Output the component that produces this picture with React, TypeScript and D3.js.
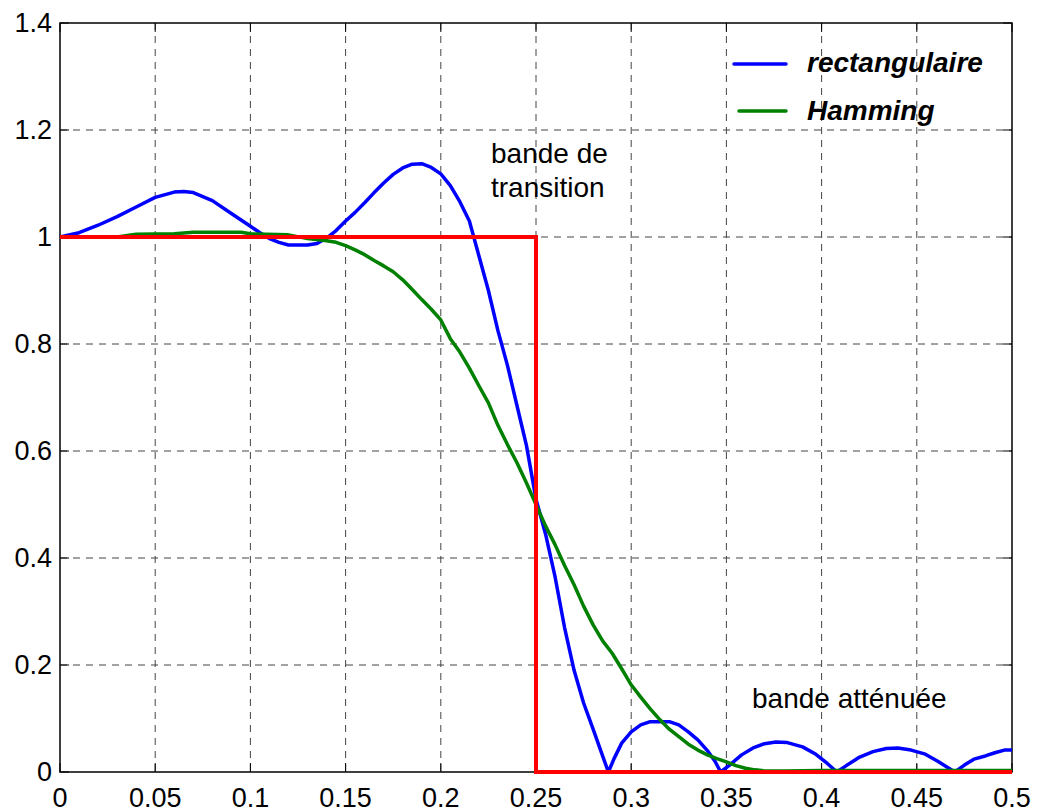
import React from "react";
import * as d3 from "d3";

// Normalised frequency samples and magnitude responses
const rectFreq = [
  0, 0.01, 0.02, 0.03, 0.04, 0.05, 0.06, 0.065, 0.07, 0.08, 0.09, 0.1, 0.105, 0.11, 0.115, 0.12,
  0.13, 0.135, 0.14, 0.145, 0.15, 0.155, 0.16, 0.165, 0.17, 0.175, 0.18, 0.185, 0.19, 0.195, 0.2,
  0.205, 0.21, 0.215, 0.22, 0.225, 0.23, 0.235, 0.24, 0.245, 0.25, 0.255, 0.26, 0.265, 0.27, 0.275,
  0.28, 0.284, 0.288, 0.291, 0.295, 0.3, 0.305, 0.31, 0.32, 0.325, 0.33, 0.335, 0.34, 0.344, 0.347,
  0.352, 0.358, 0.364, 0.37, 0.376, 0.382, 0.39, 0.397, 0.403, 0.408, 0.413, 0.42, 0.427, 0.434,
  0.44, 0.447, 0.454, 0.461, 0.466, 0.47, 0.475, 0.48, 0.486, 0.491, 0.496, 0.5,
];
const rectMag = [
  1.0, 1.008, 1.022, 1.038, 1.056, 1.074, 1.084, 1.085, 1.083, 1.068, 1.044, 1.02, 1.008, 0.997,
  0.99, 0.985, 0.985, 0.988, 0.998, 1.012, 1.03, 1.046, 1.064, 1.083, 1.101, 1.117, 1.129, 1.136,
  1.137, 1.13, 1.118, 1.096, 1.066, 1.03, 0.965, 0.9, 0.825, 0.76, 0.685, 0.61, 0.51, 0.445, 0.365,
  0.27, 0.19, 0.129, 0.08, 0.04, 0.0, 0.025, 0.054, 0.075, 0.088, 0.094, 0.094, 0.088, 0.075, 0.06,
  0.04, 0.02, 0.0, 0.014, 0.032, 0.045, 0.053, 0.056, 0.055, 0.047, 0.033, 0.016, 0.0, 0.012, 0.028,
  0.038, 0.044, 0.045, 0.041, 0.034, 0.02, 0.009, 0.0, 0.013, 0.024, 0.03, 0.036, 0.041, 0.041,
];

const hammFreq = [
  0, 0.03, 0.04, 0.06, 0.07, 0.095, 0.1, 0.12, 0.13, 0.14, 0.145, 0.15, 0.155, 0.16, 0.165, 0.17,
  0.175, 0.18, 0.185, 0.19, 0.195, 0.2, 0.205, 0.21, 0.215, 0.22, 0.225, 0.23, 0.235, 0.24, 0.245,
  0.25, 0.255, 0.26, 0.265, 0.27, 0.275, 0.28, 0.285, 0.29, 0.295, 0.3, 0.305, 0.31, 0.315, 0.32,
  0.325, 0.33, 0.335, 0.34, 0.345, 0.35, 0.355, 0.36, 0.365, 0.37, 0.38, 0.4, 0.5,
];
const hammMag = [
  1.0, 1.0, 1.005, 1.006, 1.009, 1.009, 1.006, 1.004, 0.997, 0.993, 0.99, 0.984, 0.976, 0.967,
  0.956, 0.946, 0.935, 0.92, 0.902, 0.883, 0.865, 0.845, 0.81, 0.785, 0.755, 0.722, 0.69, 0.648,
  0.612, 0.578, 0.54, 0.5, 0.46, 0.425, 0.386, 0.35, 0.31, 0.275, 0.245, 0.222, 0.193, 0.163, 0.14,
  0.118, 0.098, 0.08, 0.066, 0.052, 0.041, 0.032, 0.025, 0.019, 0.012, 0.007, 0.004, 0.002, 0.002,
  0.003, 0.003,
];

// Ideal low-pass template
const idealFreq = [0, 0.25, 0.25, 0.5];
const idealMag = [1, 1, 0, 0];

const xTicks = [0, 0.05, 0.1, 0.15, 0.2, 0.25, 0.3, 0.35, 0.4, 0.45, 0.5];
const xTickLabels = ["0", "0.05", "0.1", "0.15", "0.2", "0.25", "0.3", "0.35", "0.4", "0.45", "0.5"];
const yTicks = [0, 0.2, 0.4, 0.6, 0.8, 1, 1.2, 1.4];
const yTickLabels = ["0", "0.2", "0.4", "0.6", "0.8", "1", "1.2", "1.4"];

const seriesNames = ["rectangulaire", "Hamming"];

const W = 1037;
const H = 812;
const L = 60, R = 1012, T = 23, B = 772;
const FONT = "'Liberation Sans', Arial, Helvetica, sans-serif";

export default function App() {
  const x = d3.scaleLinear().domain([0, 0.5]).range([L, R]);
  const y = d3.scaleLinear().domain([0, 1.4]).range([B, T]);
  const line = d3
    .line<[number, number]>()
    .x((d) => x(d[0]))
    .y((d) => y(d[1]));

  const rectPts = rectFreq.map((f, i) => [f, rectMag[i]] as [number, number]);
  const hammPts = hammFreq.map((f, i) => [f, hammMag[i]] as [number, number]);
  const idealPts = idealFreq.map((f, i) => [f, idealMag[i]] as [number, number]);

  const gridColor = "#444";
  const tickLen = 9;

  return (
    <svg
      width={W}
      height={H}
      style={{ position: "absolute", left: 0, top: 0, background: "#fff" }}
      fontFamily={FONT}
    >
      <rect x={0} y={0} width={W} height={H} fill="#fff" />
      {/* grid */}
      {xTicks.slice(1, -1).map((t) => (
        <line key={"gx" + t} x1={x(t)} x2={x(t)} y1={T} y2={B} stroke={gridColor} strokeWidth={1} strokeDasharray="7,6" />
      ))}
      {yTicks.slice(1, -1).map((t) => (
        <line key={"gy" + t} x1={L} x2={R} y1={y(t)} y2={y(t)} stroke={gridColor} strokeWidth={1} strokeDasharray="7,6" />
      ))}
      {/* tick marks on all four sides */}
      {xTicks.map((t) => (
        <g key={"tx" + t}>
          <line x1={x(t)} x2={x(t)} y1={B} y2={B - tickLen} stroke="#000" />
          <line x1={x(t)} x2={x(t)} y1={T} y2={T + tickLen} stroke="#000" />
        </g>
      ))}
      {yTicks.map((t) => (
        <g key={"ty" + t}>
          <line x1={L} x2={L + tickLen} y1={y(t)} y2={y(t)} stroke="#000" />
          <line x1={R} x2={R - tickLen} y1={y(t)} y2={y(t)} stroke="#000" />
        </g>
      ))}
      {/* axes box */}
      <rect x={L} y={T} width={R - L} height={B - T} fill="none" stroke="#000" strokeWidth={1.5} />

      {/* curves */}
      <path d={line(rectPts) || ""} fill="none" stroke="#0000ff" strokeWidth={3.5} strokeLinejoin="round" />
      <path d={line(hammPts) || ""} fill="none" stroke="#008000" strokeWidth={3.5} strokeLinejoin="round" />
      <path d={line(idealPts) || ""} fill="none" stroke="#ff0000" strokeWidth={4} />

      {/* tick labels */}
      {xTicks.map((t, i) => (
        <text key={"lx" + t} x={x(t)} y={807} fontSize={27} textAnchor="middle" fill="#000">
          {xTickLabels[i]}
        </text>
      ))}
      {yTicks.map((t, i) => (
        <text key={"ly" + t} x={52} y={y(t) + 9} fontSize={27} textAnchor="end" fill="#000">
          {yTickLabels[i]}
        </text>
      ))}

      {/* legend */}
      <line x1={734} x2={786} y1={64} y2={64} stroke="#0000ff" strokeWidth={3.5} strokeLinecap="round" />
      <line x1={739} x2={786} y1={111} y2={111} stroke="#008000" strokeWidth={3.5} strokeLinecap="round" />
      <text x={807} y={72} fontSize={28} fontWeight="bold" fontStyle="italic" fill="#000">
        {seriesNames[0]}
      </text>
      <text x={807} y={120} fontSize={28} fontWeight="bold" fontStyle="italic" fill="#000">
        {seriesNames[1]}
      </text>

      {/* annotations */}
      <text x={491} y={163} fontSize={28} fill="#000">bande de</text>
      <text x={491} y={197} fontSize={28} fill="#000">transition</text>
      <text x={752} y={708} fontSize={28} fill="#000">bande atténuée</text>
    </svg>
  );
}
